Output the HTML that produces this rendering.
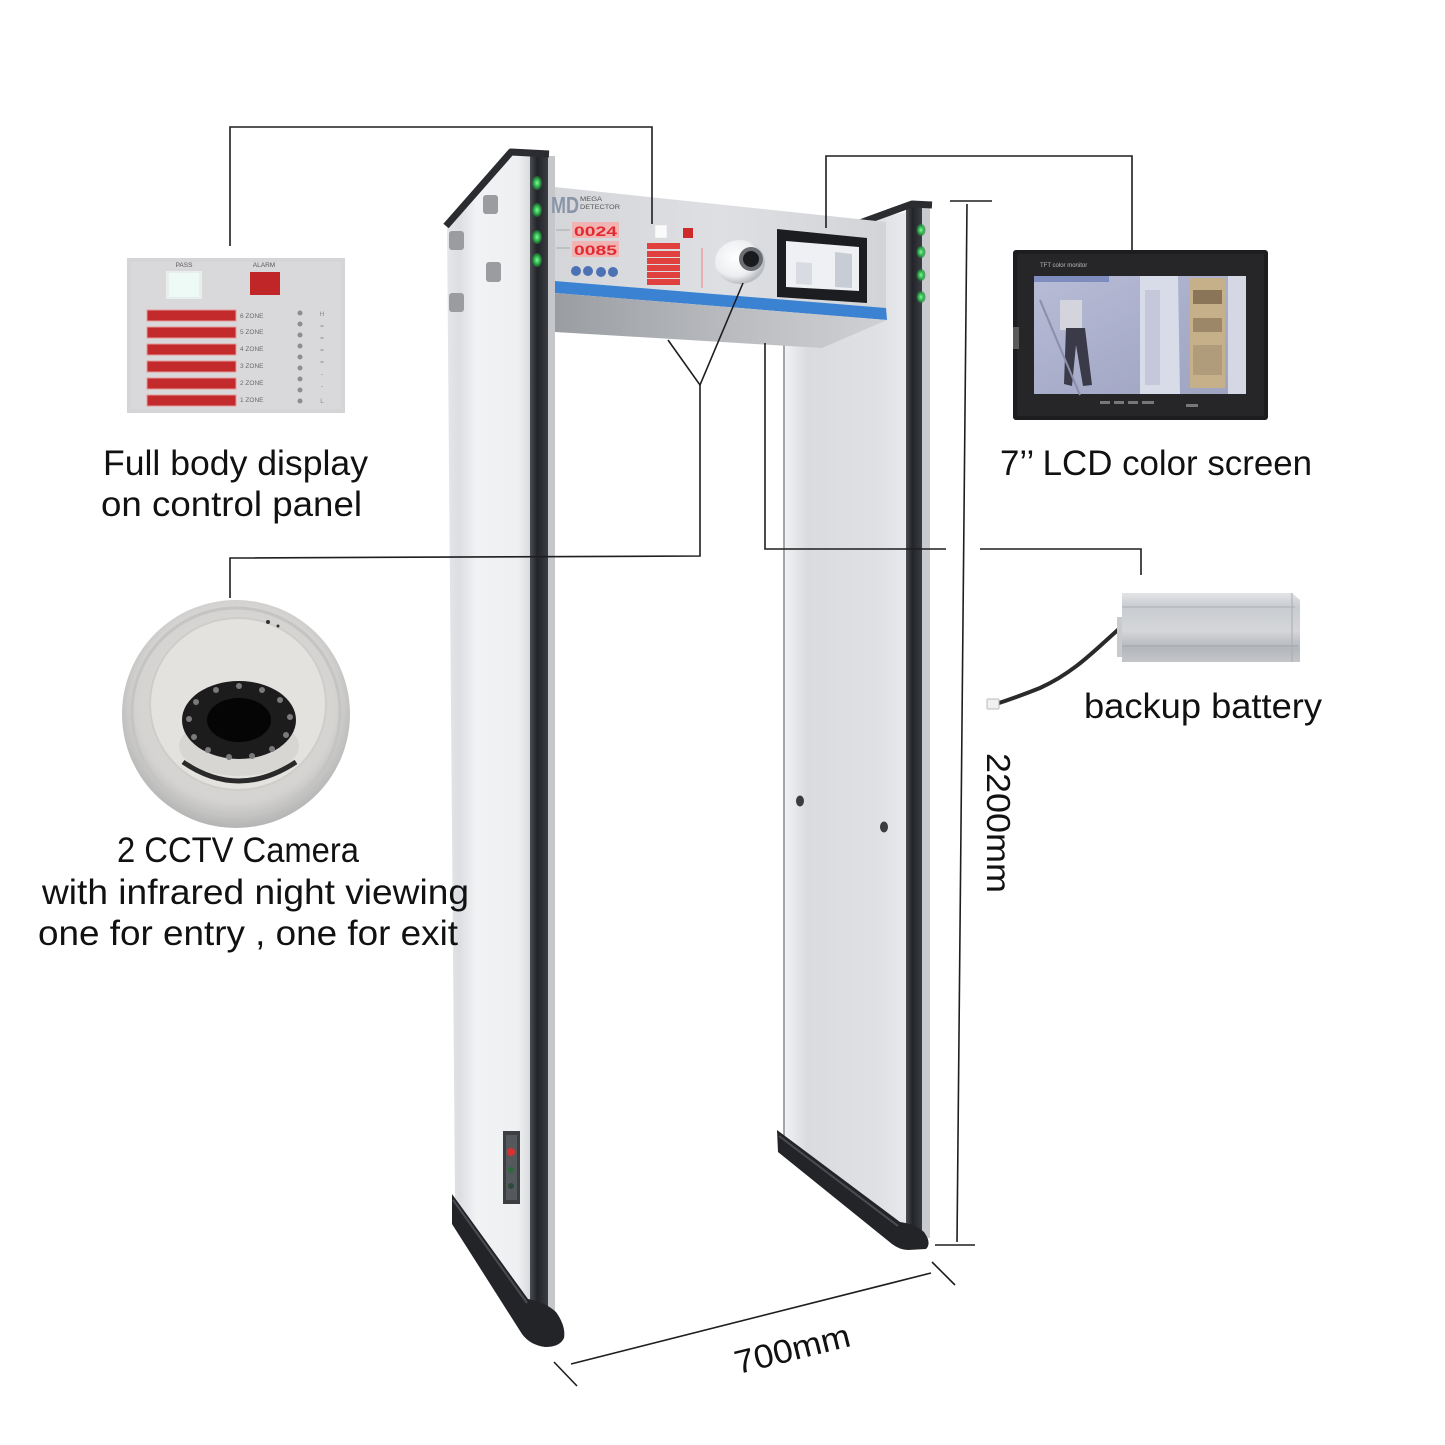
<!DOCTYPE html>
<html>
<head>
<meta charset="utf-8">
<style>
html,body{margin:0;padding:0;background:#fff;}
svg{display:block;}
text{font-family:"Liberation Sans",Arial,sans-serif;}
</style>
</head>
<body>
<svg width="1445" height="1445" viewBox="0 0 1445 1445" xmlns="http://www.w3.org/2000/svg">
<defs>
  <linearGradient id="lface" x1="0" y1="0" x2="1" y2="0">
    <stop offset="0" stop-color="#e4e6e9"/>
    <stop offset="0.15" stop-color="#dcdee2"/>
    <stop offset="0.35" stop-color="#f1f2f4"/>
    <stop offset="0.85" stop-color="#eef0f2"/>
    <stop offset="1" stop-color="#d9dbde"/>
  </linearGradient>
  <linearGradient id="rface" x1="0" y1="0" x2="1" y2="0">
    <stop offset="0" stop-color="#f2f3f5"/>
    <stop offset="0.1" stop-color="#e6e7ea"/>
    <stop offset="0.2" stop-color="#d9dbdf"/>
    <stop offset="0.8" stop-color="#dfe1e4"/>
    <stop offset="1" stop-color="#e8e9ec"/>
  </linearGradient>
  <linearGradient id="xface" x1="0" y1="0" x2="1" y2="0">
    <stop offset="0" stop-color="#d4d6da"/>
    <stop offset="0.5" stop-color="#dddfe2"/>
    <stop offset="1" stop-color="#d2d4d7"/>
  </linearGradient>
  <linearGradient id="under" x1="0" y1="0" x2="1" y2="0">
    <stop offset="0" stop-color="#9a9da2"/>
    <stop offset="0.6" stop-color="#bdbfc3"/>
    <stop offset="1" stop-color="#cfd1d4"/>
  </linearGradient>
  <linearGradient id="strip" x1="0" y1="0" x2="1" y2="0">
    <stop offset="0" stop-color="#4a4d52"/>
    <stop offset="0.4" stop-color="#22242a"/>
    <stop offset="1" stop-color="#3a3d42"/>
  </linearGradient>
  <radialGradient id="led" cx="0.5" cy="0.5" r="0.5">
    <stop offset="0" stop-color="#8ff0a0"/>
    <stop offset="0.5" stop-color="#32c050"/>
    <stop offset="1" stop-color="#1e7a35" stop-opacity="0.6"/>
  </radialGradient>
  <radialGradient id="dome" cx="0.4" cy="0.4" r="0.6">
    <stop offset="0" stop-color="#ffffff"/>
    <stop offset="0.7" stop-color="#eceef0"/>
    <stop offset="1" stop-color="#b9bcc0"/>
  </radialGradient>
  <radialGradient id="camshell" cx="0.5" cy="0.45" r="0.55">
    <stop offset="0" stop-color="#e2e1df"/>
    <stop offset="0.8" stop-color="#d4d3d1"/>
    <stop offset="1" stop-color="#b4b4b4"/>
  </radialGradient>
  <linearGradient id="batt" x1="0" y1="0" x2="0" y2="1">
    <stop offset="0" stop-color="#e2e4e6"/>
    <stop offset="0.2" stop-color="#c9ccd0"/>
    <stop offset="0.55" stop-color="#d4d6d9"/>
    <stop offset="0.8" stop-color="#b4b7bb"/>
    <stop offset="1" stop-color="#c4c6c9"/>
  </linearGradient>
  <linearGradient id="screen" x1="0" y1="0" x2="1" y2="1">
    <stop offset="0" stop-color="#b8bcd6"/>
    <stop offset="0.5" stop-color="#a9aecb"/>
    <stop offset="1" stop-color="#9ea3c0"/>
  </linearGradient>
</defs>

<rect width="1445" height="1445" fill="#ffffff"/>

<!-- ================= RIGHT PILLAR ================= -->
<polygon points="783,300 860,222 906,212 906,1232 783,1138" fill="url(#rface)"/>
<line x1="784" y1="340" x2="784" y2="1140" stroke="#8a8c90" stroke-width="1.5"/>
<rect x="906" y="206" width="16" height="1034" fill="url(#strip)"/>
<rect x="922" y="208" width="8" height="1030" fill="#c9cbcf"/>
<polyline points="857,224 912,204 932,205" fill="none" stroke="#2a2c30" stroke-width="7" stroke-linejoin="round"/>
<g>
  <ellipse cx="921" cy="230" rx="4.5" ry="6" fill="url(#led)"/>
  <ellipse cx="921" cy="252" rx="4.5" ry="6" fill="url(#led)"/>
  <ellipse cx="921" cy="275" rx="4.5" ry="6" fill="url(#led)"/>
  <ellipse cx="921" cy="297" rx="4.5" ry="6" fill="url(#led)"/>
</g>
<ellipse cx="800" cy="801" rx="4" ry="5.5" fill="#3a3c40"/>
<ellipse cx="884" cy="827" rx="4" ry="5.5" fill="#3a3c40"/>
<!-- right base -->
<path d="M777,1130 L900,1222 Q915,1224 924,1232 Q932,1243 926,1249 L908,1250 Q900,1250 892,1244 L778,1152 Z" fill="#222428"/>
<path d="M779,1136 L898,1226" stroke="#4a4c52" stroke-width="2"/>

<!-- ================= LEFT PILLAR ================= -->
<polygon points="447,224 510,154 530,154 530,1303 455,1199" fill="url(#lface)"/>
<rect x="530" y="152" width="18" height="1176" fill="url(#strip)"/>
<rect x="548" y="156" width="7" height="1166" fill="#c5c7cb"/>
<polyline points="446,226 511,152 549,154" fill="none" stroke="#2a2c30" stroke-width="7" stroke-linejoin="round"/>
<!-- side buttons -->
<rect x="483" y="195" width="15" height="19" rx="3" fill="#9a9c9f"/>
<rect x="449" y="231" width="15" height="19" rx="3" fill="#9a9c9f"/>
<rect x="486" y="262" width="15" height="20" rx="3" fill="#9a9c9f"/>
<rect x="449" y="293" width="15" height="19" rx="3" fill="#9a9c9f"/>
<g>
  <ellipse cx="537" cy="183" rx="5" ry="7" fill="url(#led)"/>
  <ellipse cx="537" cy="210" rx="5" ry="7" fill="url(#led)"/>
  <ellipse cx="537" cy="237" rx="5" ry="7" fill="url(#led)"/>
  <ellipse cx="537" cy="260" rx="5" ry="7" fill="url(#led)"/>
</g>
<!-- control box on left pillar -->
<rect x="503" y="1131" width="17" height="73" fill="#3c3e42"/>
<rect x="506" y="1135" width="11" height="65" fill="#55585c"/>
<circle cx="511" cy="1152" r="4" fill="#d83030"/>
<circle cx="511" cy="1170" r="3" fill="#2a6a3a"/>
<circle cx="511" cy="1186" r="3" fill="#2a4a3a"/>
<!-- left base -->
<path d="M452,1194 L528,1299 Q545,1302 556,1312 Q566,1326 564,1338 Q560,1347 545,1347 Q530,1345 522,1334 L452,1224 Z" fill="#222428"/>
<path d="M453,1200 L527,1303" stroke="#4a4c52" stroke-width="2"/>

<!-- ================= CROSSBAR ================= -->
<polygon points="555,187 886,222 886,308 555,281" fill="url(#xface)"/>
<polygon points="555,281 886,308 887,320 555,293" fill="#3b83d2"/>
<polygon points="555,293 887,320 822,348 555,332" fill="url(#under)"/>
<!-- logo -->
<text x="551" y="213" font-size="23" font-weight="bold" fill="#8a96a8" textLength="28" lengthAdjust="spacingAndGlyphs">MD</text>
<text x="580" y="201" font-size="6.5" fill="#555" textLength="22" lengthAdjust="spacingAndGlyphs">MEGA</text>
<text x="580" y="209" font-size="6.5" fill="#555" textLength="40" lengthAdjust="spacingAndGlyphs">DETECTOR</text>
<!-- digit displays -->
<rect x="572" y="222" width="47" height="16" fill="#f2b3b3"/>
<text x="574" y="236" font-size="14" font-weight="bold" fill="#e02a30" textLength="43" lengthAdjust="spacingAndGlyphs">0024</text>
<rect x="572" y="241" width="47" height="16" fill="#f2b3b3"/>
<text x="574" y="255" font-size="14" font-weight="bold" fill="#e02a30" textLength="43" lengthAdjust="spacingAndGlyphs">0085</text>
<line x1="556" y1="230" x2="570" y2="230" stroke="#aaa" stroke-width="1"/>
<line x1="556" y1="248" x2="570" y2="248" stroke="#aaa" stroke-width="1"/>
<circle cx="576" cy="271" r="5" fill="#4c72b4"/>
<circle cx="588" cy="271" r="5" fill="#4c72b4"/>
<circle cx="601" cy="272" r="5" fill="#4c72b4"/>
<circle cx="613" cy="272" r="5" fill="#4c72b4"/>
<!-- pass / alarm -->
<rect x="655" y="225" width="12" height="13" fill="#fafafa" stroke="#ddd" stroke-width="0.5"/>
<rect x="683" y="228" width="10" height="10" fill="#cf2a2a"/>
<g fill="#e0413f">
  <rect x="647" y="243" width="33" height="6"/>
  <rect x="647" y="251" width="33" height="6"/>
  <rect x="647" y="258" width="33" height="6"/>
  <rect x="647" y="265" width="33" height="6"/>
  <rect x="647" y="272" width="33" height="6"/>
  <rect x="647" y="279" width="33" height="6"/>
</g>
<line x1="702" y1="248" x2="702" y2="288" stroke="#e8a0a0" stroke-width="1.5"/>
<!-- dome camera -->
<ellipse cx="740" cy="262" rx="25" ry="22" fill="url(#dome)"/>
<circle cx="751" cy="259" r="12" fill="#6a6d72"/>
<circle cx="751" cy="259" r="8" fill="#1a1b1e"/>
<!-- lcd -->
<polygon points="777,229 867,238 867,303 777,297" fill="#1c1d20"/>
<polygon points="786,241 859,247 859,291 786,287" fill="#eef0f4"/>
<polygon points="835,252 852,254 852,288 835,287" fill="#c8ccd4"/>
<polygon points="796,262 812,263 812,285 796,284" fill="#d8dbe2"/>

<!-- ================= CONNECTOR LINES ================= -->
<g stroke="#1e1e1e" stroke-width="1.6" fill="none">
  <polyline points="230,246 230,127 652,127 652,224"/>
  <polyline points="826,228 826,156 1132,156 1132,250"/>
  <polyline points="668,340 700,385 743,283"/>
  <polyline points="700,385 700,556 230,558 230,598"/>
  <polyline points="765,343 765,549 946,549"/>
  <polyline points="980,549 1141,549 1141,575"/>
  <!-- height dimension -->
  <line x1="967" y1="204" x2="957" y2="1242"/>
  <line x1="950" y1="201" x2="992" y2="201"/>
  <line x1="935" y1="1245" x2="975" y2="1245"/>
  <!-- width dimension -->
  <line x1="571" y1="1364" x2="931" y2="1273"/>
  <line x1="554" y1="1362" x2="577" y2="1386"/>
  <line x1="932" y1="1262" x2="955" y2="1285"/>
</g>

<!-- ================= CONTROL PANEL PICTURE ================= -->
<rect x="127" y="258" width="218" height="155" fill="#d5d5d7"/>
<rect x="131" y="262" width="210" height="147" fill="#d9d9db"/>
<text x="184" y="267" font-size="6.5" fill="#5a5a5a" text-anchor="middle">PASS</text>
<text x="264" y="267" font-size="6.5" fill="#5a5a5a" text-anchor="middle">ALARM</text>
<rect x="166" y="271" width="36" height="28" fill="#f2fbf6" opacity="0.6"/>
<rect x="169" y="273" width="30" height="24" fill="#eefaf5"/>
<rect x="250" y="272" width="30" height="23" fill="#c02628"/>
<g fill="#c22a2c" stroke="#e89a9a" stroke-width="1">
  <rect x="147" y="310" width="89" height="11"/>
  <rect x="147" y="327" width="89" height="11"/>
  <rect x="147" y="344" width="89" height="11"/>
  <rect x="147" y="361" width="89" height="11"/>
  <rect x="147" y="378" width="89" height="11"/>
  <rect x="147" y="395" width="89" height="11"/>
</g>
<g font-size="6.5" fill="#6a6a6a">
  <text x="240" y="318">6 ZONE</text>
  <text x="240" y="334">5 ZONE</text>
  <text x="240" y="351">4 ZONE</text>
  <text x="240" y="368">3 ZONE</text>
  <text x="240" y="385">2 ZONE</text>
  <text x="240" y="402">1 ZONE</text>
</g>
<g fill="#8e8e8e">
  <circle cx="300" cy="313" r="2.5"/><circle cx="300" cy="324" r="2.5"/>
  <circle cx="300" cy="335" r="2.5"/><circle cx="300" cy="346" r="2.5"/>
  <circle cx="300" cy="357" r="2.5"/><circle cx="300" cy="368" r="2.5"/>
  <circle cx="300" cy="379" r="2.5"/><circle cx="300" cy="390" r="2.5"/>
  <circle cx="300" cy="401" r="2.5"/>
</g>
<g font-size="6.5" fill="#8a8a8a" text-anchor="middle">
  <text x="322" y="316">H</text>
  <text x="322" y="328">=</text>
  <text x="322" y="340">=</text>
  <text x="322" y="352">=</text>
  <text x="322" y="364">=</text>
  <text x="322" y="376">-</text>
  <text x="322" y="388">-</text>
  <text x="322" y="403">L</text>
</g>

<!-- ================= CCTV CAMERA PICTURE ================= -->
<circle cx="236" cy="714" r="114" fill="url(#camshell)"/>
<circle cx="236" cy="712" r="104" fill="none" stroke="#c4c4c4" stroke-width="3"/>
<ellipse cx="238" cy="704" rx="88" ry="86" fill="#e4e2df"/>
<ellipse cx="238" cy="704" rx="88" ry="86" fill="none" stroke="#cfcdca" stroke-width="2"/>
<path d="M183,762 Q238,800 296,762" fill="none" stroke="#2a2a2a" stroke-width="5"/>
<ellipse cx="239" cy="746" rx="60" ry="30" fill="#d8d6d2"/>
<ellipse cx="239" cy="720" rx="57" ry="39" fill="#1c1c1c"/>
<ellipse cx="239" cy="720" rx="32" ry="22" fill="#050505"/>
<g fill="#7a7a7a">
  <circle cx="216" cy="690" r="3"/><circle cx="239" cy="686" r="3"/><circle cx="262" cy="690" r="3"/>
  <circle cx="280" cy="700" r="3"/><circle cx="290" cy="717" r="3"/><circle cx="286" cy="735" r="3"/>
  <circle cx="272" cy="749" r="3"/><circle cx="252" cy="756" r="3"/><circle cx="229" cy="757" r="3"/>
  <circle cx="208" cy="750" r="3"/><circle cx="194" cy="737" r="3"/><circle cx="189" cy="719" r="3"/>
  <circle cx="196" cy="702" r="3"/>
</g>
<circle cx="268" cy="622" r="2" fill="#333"/><circle cx="278" cy="626" r="1.5" fill="#333"/>

<!-- ================= LCD MONITOR PICTURE ================= -->
<rect x="1013" y="250" width="255" height="170" rx="3" fill="#1d1d1f"/>
<rect x="1017" y="254" width="247" height="162" rx="2" fill="#262628"/>
<text x="1040" y="267" font-size="6" fill="#bbb">TFT color monitor</text>
<rect x="1034" y="276" width="212" height="118" fill="url(#screen)"/>
<rect x="1034" y="276" width="75" height="6" fill="#5a6fb0" opacity="0.6"/>
<polygon points="1140,276 1178,276 1180,394 1140,394" fill="#d8dbe8"/>
<polygon points="1145,290 1160,290 1160,385 1145,385" fill="#c4c8da"/>
<rect x="1190" y="278" width="35" height="110" fill="#c5b08a"/>
<rect x="1193" y="290" width="29" height="14" fill="#8a7558"/>
<rect x="1193" y="318" width="29" height="14" fill="#9c8868"/>
<rect x="1193" y="345" width="29" height="30" fill="#b09c7a"/>
<rect x="1228" y="276" width="18" height="118" fill="#d5d8e4"/>
<rect x="1060" y="300" width="22" height="30" fill="#d4d4dc"/>
<polygon points="1066,328 1085,328 1092,385 1083,386 1076,345 1072,386 1064,384" fill="#3a3a48"/>
<line x1="1040" y1="300" x2="1080" y2="395" stroke="#8a8ea8" stroke-width="2"/>
<rect x="1013" y="327" width="6" height="22" fill="#5a5a5a"/>
<g fill="#777">
  <rect x="1100" y="401" width="10" height="3"/><rect x="1114" y="401" width="10" height="3"/>
  <rect x="1128" y="401" width="10" height="3"/><rect x="1142" y="401" width="12" height="3"/>
  <rect x="1186" y="404" width="12" height="3"/>
</g>

<!-- ================= BATTERY PICTURE ================= -->
<path d="M1120,628 C1095,650 1075,672 1040,688 C1020,696 1005,701 996,704" fill="none" stroke="#2a2a2a" stroke-width="4"/>
<rect x="987" y="699" width="12" height="10" rx="1" fill="#f0f0f0" stroke="#bbb" stroke-width="1"/>
<rect x="1117" y="617" width="7" height="40" fill="#c8cacd"/>
<polygon points="1122,593 1292,593 1300,600 1300,662 1122,662" fill="url(#batt)"/>
<line x1="1122" y1="607" x2="1295" y2="607" stroke="#b6b9bd" stroke-width="1.5"/>
<line x1="1122" y1="646" x2="1298" y2="646" stroke="#a8abb0" stroke-width="1.5"/>
<line x1="1292" y1="593" x2="1292" y2="662" stroke="#a9acb0" stroke-width="1"/>

<!-- ================= TEXT ================= -->
<g fill="#111" font-size="35">
  <text x="103" y="475" textLength="265" lengthAdjust="spacingAndGlyphs">Full body display</text>
  <text x="101" y="516" textLength="261" lengthAdjust="spacingAndGlyphs">on control panel</text>
  <text x="1000" y="475" textLength="312" lengthAdjust="spacingAndGlyphs">7’’ LCD color screen</text>
  <text x="1084" y="718" textLength="238" lengthAdjust="spacingAndGlyphs">backup battery</text>
  <text x="117" y="862" textLength="242" lengthAdjust="spacingAndGlyphs">2 CCTV Camera</text>
  <text x="42" y="904" textLength="427" lengthAdjust="spacingAndGlyphs">with infrared night viewing</text>
  <text x="38" y="945" textLength="420" lengthAdjust="spacingAndGlyphs">one for entry , one for exit</text>
</g>
<text transform="translate(987,823) rotate(90)" font-size="33" fill="#111" text-anchor="middle" textLength="140" lengthAdjust="spacingAndGlyphs">2200mm</text>
<text transform="translate(795,1360) rotate(-14)" font-size="33" fill="#111" text-anchor="middle" textLength="118" lengthAdjust="spacingAndGlyphs">700mm</text>
</svg>
</body>
</html>
